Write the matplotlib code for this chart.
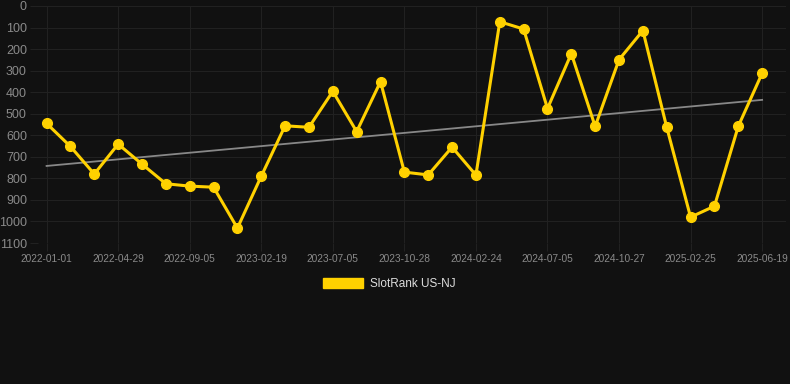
import matplotlib
matplotlib.use("Agg")
import matplotlib.pyplot as plt
from matplotlib.patches import Patch
import numpy as np

plt.rcParams["font.family"] = ["Liberation Sans", "DejaVu Sans"]

tick_labels = ["2022-01-01", "2022-04-29", "2022-09-05", "2023-02-19", "2023-07-05",
               "2023-10-28", "2024-02-24", "2024-07-05", "2024-10-27", "2025-02-25",
               "2025-06-19"]
ranks = [545, 652, 780, 641, 734, 825, 836, 841, 1031, 790,
         556, 563, 396, 583, 351, 771, 784, 655, 785, 73,
         107, 476, 221, 559, 249, 114, 563, 980, 929, 558, 312]
series_name = "SlotRank US-NJ"

bg = "#111111"
gold = "#FFD100"
fig = plt.figure(figsize=(7.9, 3.84), dpi=100, facecolor=bg)
ax = fig.add_axes([38/790, 141/384, (786-38)/790, 237/384], facecolor=bg)

x = np.arange(len(ranks))
coef = np.polyfit(x, ranks, 1)
ax.plot(x, np.polyval(coef, x), color="#888888", lw=1.3, zorder=2)
ax.plot(x, ranks, color=gold, lw=2.2, marker="o", markersize=7, zorder=3)

ax.set_ylim(1100, 0)
ax.set_yticks(np.arange(0, 1101, 100))
ax.set_xlim(-0.36, 31.0)
ax.set_xticks(np.arange(0, len(ranks), 3))
ax.set_xticklabels(tick_labels)
ax.grid(True, color="#212121", lw=0.8)
for s in ax.spines.values():
    s.set_visible(False)
ax.tick_params(axis="y", colors="#212121", labelcolor="#8a8a8a", labelsize=9, length=6, pad=2)
ax.tick_params(axis="x", colors="#212121", labelcolor="#8a8a8a", labelsize=7.3, length=6, pad=2)

leg = fig.legend(handles=[Patch(facecolor=gold, edgecolor=gold)], labels=[series_name],
                 loc="center", bbox_to_anchor=(389/790, 1 - 284/384), frameon=False,
                 fontsize=8.5, handlelength=3.4, handleheight=1.0, handletextpad=0.6)
for t in leg.get_texts():
    t.set_color("#dddddd")

fig.savefig("out.png", dpi=100, facecolor=bg)
